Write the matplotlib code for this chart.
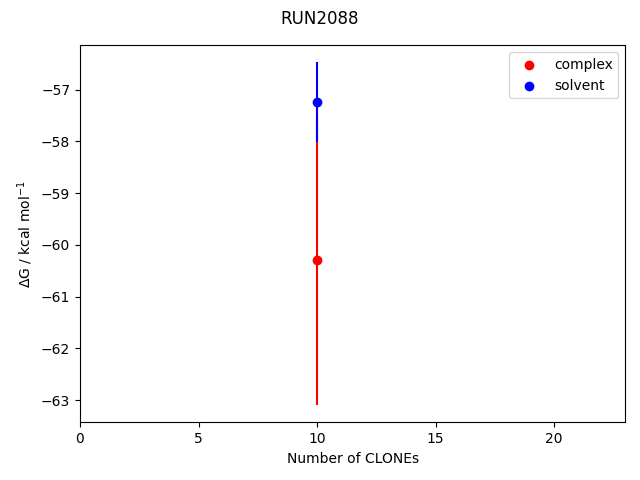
import matplotlib
matplotlib.use("Agg")
import matplotlib.pyplot as plt

# values
n_clones = [10]
complex_dg = [-60.29]
complex_err = [2.81]
solvent_dg = [-57.24]
solvent_err = [0.77]

fig = plt.figure(figsize=(6.4, 4.8), dpi=100)
ax = fig.add_subplot(111)

ax.scatter(n_clones, complex_dg, color="red", label="complex")
ax.errorbar(n_clones, complex_dg, yerr=complex_err, color="red", ls="none")
ax.scatter(n_clones, solvent_dg, color="blue", label="solvent")
ax.errorbar(n_clones, solvent_dg, yerr=solvent_err, color="blue", ls="none")

ax.set_xlim(0, 23)
ax.set_xlabel("Number of CLONEs")
ax.set_ylabel(r"$\Delta$G / kcal mol$^{-1}$")
ax.legend()
fig.suptitle("RUN2088")
fig.subplots_adjust(left=0.125, right=0.977, top=0.906, bottom=0.12)
fig.savefig("out.png")
